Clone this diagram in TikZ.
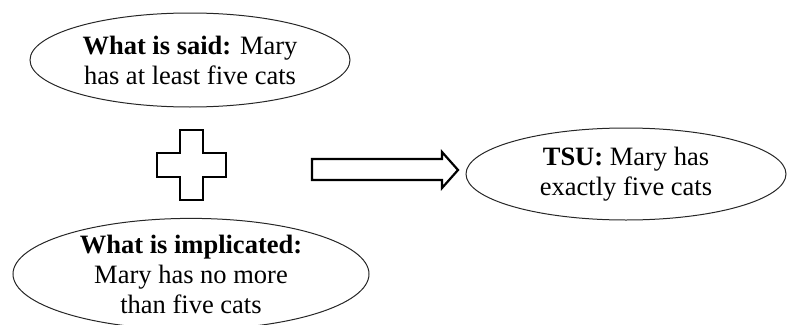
\documentclass[tikz,border=0pt]{standalone}
\usepackage{fontspec}
\setmainfont{Liberation Serif}
\usetikzlibrary{shapes.geometric}
\begin{document}
\begin{tikzpicture}[x=1pt,y=-1pt,
  bubble/.style={ellipse, draw=black!85, line width=1pt, inner sep=0pt, align=center,
                 font=\fontsize{26.5}{30}\selectfont},
  outline/.style={draw=black, line width=2.2pt, line join=miter}]
\useasboundingbox (0,0) rectangle (789,324);
\node[bubble, minimum width=320pt, minimum height=94pt] (said) at (190,60)
  {\textbf{What is said:} Mary\\has at least five cats};
\node[bubble, minimum width=320pt, minimum height=92pt] (tsu) at (626,174)
  {\textbf{TSU:} Mary has\\exactly five cats};
\node[bubble, minimum width=356pt, minimum height=98pt] (impl) at (191,274)
  {\textbf{What is implicated:}\\Mary has no more\\than five cats};
% plus sign
\draw[outline] (180,130) -- (203,130) -- (203,153) -- (226,153) -- (226,177) -- (203,177)
  -- (203,200) -- (180,200) -- (180,177) -- (157,177) -- (157,153) -- (180,153) -- cycle;
% block arrow
\draw[outline] (312,159) -- (442,159) -- (442,152) -- (458,170) -- (442,188) -- (442,180)
  -- (312,180) -- cycle;
\end{tikzpicture}
\end{document}
